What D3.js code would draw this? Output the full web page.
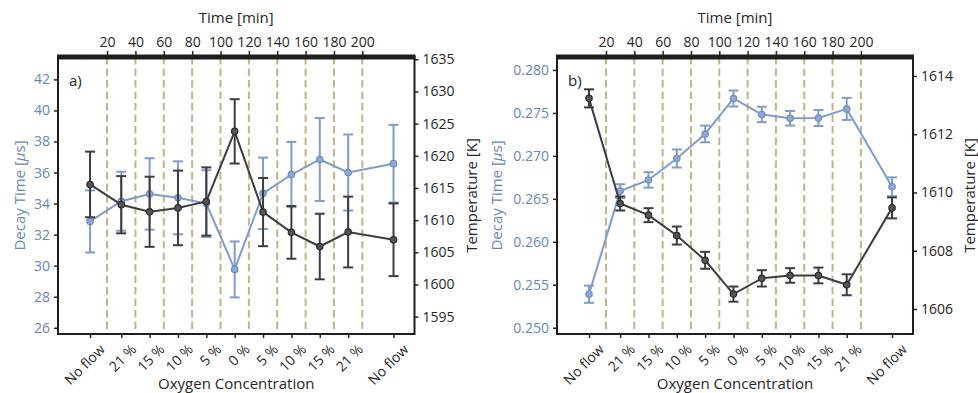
<!DOCTYPE html>
<html>
<head>
<meta charset="utf-8">
<script src="https://cdn.jsdelivr.net/npm/d3@7"></script>
<style>
  html, body { margin: 0; padding: 0; background: #fff; }
  svg text { font-family: "Open Sans", "Noto Sans", "DejaVu Sans", sans-serif; }
</style>
</head>
<body>
<svg id="chart" width="978" height="393"></svg>
<script>
// Condition labels and mid-interval times (min)
const categories = ["No flow", "21 %", "15 %", "10 %", "5 %", "0 %", "5 %", "10 %", "15 %", "21 %", "No flow"];
const times = [8, 30, 50, 70, 90, 110, 130, 150, 170, 190, 222];
// Condition switch times (top axis ticks and dashed lines)
const switchTimes = [20, 40, 60, 80, 100, 120, 140, 160, 180, 200];

// Panel a) decay time [µs] and temperature [K]
const decayA = [32.85, 34.15, 34.62, 34.37, 34.0, 29.76, 34.66, 35.87, 36.84, 36.0, 36.57];
const decayErrA = [2.0, 1.9, 2.3, 2.35, 2.15, 1.8, 2.3, 2.1, 2.67, 2.45, 2.5];
const tempA = [1615.55, 1612.4, 1611.3, 1611.9, 1612.9, 1623.8, 1611.25, 1608.1, 1605.9, 1608.15, 1606.95];
const tempErrA = [5.1, 4.45, 5.45, 5.8, 5.3, 5.0, 5.3, 4.1, 5.1, 5.5, 5.65];

// Panel b) decay time [µs] and temperature [K]
const decayB = [0.2539, 0.2659, 0.2672, 0.2697, 0.27255, 0.27668, 0.27482, 0.27438, 0.27441, 0.27547, 0.2664];
const decayErrB = [0.001, 0.0008, 0.0009, 0.00105, 0.00097, 0.00093, 0.0009, 0.00085, 0.00093, 0.00128, 0.0011];
const tempB = [1613.23, 1609.62, 1609.22, 1608.52, 1607.67, 1606.51, 1607.05, 1607.15, 1607.15, 1606.83, 1609.47];
const tempErrB = [0.31, 0.24, 0.24, 0.31, 0.29, 0.26, 0.28, 0.25, 0.27, 0.36, 0.36];

// Left and right tick values
const decayTicksA = [26, 28, 30, 32, 34, 36, 38, 40, 42];
const tempTicksA = [1595, 1600, 1605, 1610, 1615, 1620, 1625, 1630, 1635];
const decayTicksB = [0.250, 0.255, 0.260, 0.265, 0.270, 0.275, 0.280];
const tempTicksB = [1606, 1608, 1610, 1612, 1614];

const BLUE = "#7f9ccc";
const BLUE_TEXT = "#6686bd";
const DARK = "#3d3d3d";
const INK = "#262626";
const DASH = "#c4b384";
const TICK_FS = "14px";
const LABEL_FS = "15px";

const svg = d3.select("#chart");

function panel(opts) {
  const { x0, width, top, bottom, decay, decayErr, temp, tempErr,
          decayDomain, tempDomain, decayTicks, tempTicks, decayFmt, tempFmt, tag } = opts;
  const g = svg.append("g");

  const x = d3.scaleLinear().domain([-14.6, 236.8]).range([x0, x0 + width]);
  const yL = d3.scaleLinear().domain(decayDomain).range([bottom, top]);
  const yR = d3.scaleLinear().domain(tempDomain).range([bottom, top]);

  // dashed switch lines
  g.append("g").selectAll("line").data(switchTimes).join("line")
    .attr("x1", d => x(d)).attr("x2", d => x(d))
    .attr("y1", top).attr("y2", bottom)
    .attr("stroke", DASH).attr("stroke-width", 2)
    .attr("stroke-dasharray", "7.5,4");

  function series(vals, errs, y, color, markFill, markStroke) {
    const s = g.append("g");
    const pts = vals.map((v, i) => ({ t: times[i], v, e: errs[i] }));
    s.append("path").datum(pts)
      .attr("fill", "none").attr("stroke", color).attr("stroke-width", 2)
      .attr("d", d3.line().x(d => x(d.t)).y(d => y(d.v)));
    const eb = s.append("g").selectAll("g").data(pts).join("g");
    eb.append("line")
      .attr("x1", d => x(d.t)).attr("x2", d => x(d.t))
      .attr("y1", d => y(d.v - d.e)).attr("y2", d => y(d.v + d.e))
      .attr("stroke", color).attr("stroke-width", 2);
    [-1, 1].forEach(sg => {
      eb.append("line")
        .attr("x1", d => x(d.t) - 5).attr("x2", d => x(d.t) + 5)
        .attr("y1", d => y(d.v + sg * d.e)).attr("y2", d => y(d.v + sg * d.e))
        .attr("stroke", color).attr("stroke-width", 2);
    });
    s.append("g").selectAll("circle").data(pts).join("circle")
      .attr("cx", d => x(d.t)).attr("cy", d => y(d.v)).attr("r", 3.2)
      .attr("fill", markFill).attr("stroke", markStroke).attr("stroke-width", 1.2);
  }
  series(decay, decayErr, yL, BLUE, "#8ea8d3", "#6f8dc0");
  series(temp, tempErr, yR, DARK, "#555", "#2a2a2a");

  // axes
  const left = g.append("g").attr("transform", `translate(${x0},0)`)
    .call(d3.axisLeft(yL).tickValues(decayTicks).tickFormat(decayFmt).tickSize(4).tickPadding(4));
  left.select(".domain").remove();
  left.selectAll(".tick line").attr("stroke", INK).attr("stroke-width", 1.5);
  left.selectAll(".tick text").attr("fill", BLUE_TEXT).style("font-size", TICK_FS);

  const right = g.append("g").attr("transform", `translate(${x0 + width},0)`)
    .call(d3.axisRight(yR).tickValues(tempTicks).tickFormat(tempFmt).tickSize(4).tickPadding(4));
  right.select(".domain").remove();
  right.selectAll(".tick line").attr("stroke", INK).attr("stroke-width", 1.5);
  right.selectAll(".tick text").attr("fill", INK).style("font-size", TICK_FS);

  const bot = g.append("g").attr("transform", `translate(0,${bottom})`)
    .call(d3.axisBottom(x).tickValues(times).tickFormat((d, i) => categories[i]).tickSize(4).tickPadding(3));
  bot.select(".domain").remove();
  bot.selectAll(".tick line").attr("stroke", INK).attr("stroke-width", 1.5);
  bot.selectAll(".tick text").attr("fill", INK).style("font-size", TICK_FS)
    .attr("text-anchor", "end").attr("dy", "0.75em")
    .attr("transform", "translate(3,4) rotate(-45)");

  const topAx = g.append("g").attr("transform", `translate(0,${top - 2})`)
    .call(d3.axisTop(x).tickValues(switchTimes).tickFormat(d3.format("d")).tickSize(4).tickPadding(4));
  topAx.select(".domain").remove();
  topAx.selectAll(".tick line").attr("stroke", INK).attr("stroke-width", 1.5);
  topAx.selectAll(".tick text").attr("fill", INK).style("font-size", TICK_FS);

  // frame
  g.append("rect").attr("x", x0).attr("y", top).attr("width", width).attr("height", bottom - top)
    .attr("fill", "none").attr("stroke", "#1e1e1e").attr("stroke-width", 2);
  g.append("line").attr("x1", x0 - 1).attr("x2", x0 + width + 1).attr("y1", top).attr("y2", top)
    .attr("stroke", "#1e1e1e").attr("stroke-width", 5);

  // labels
  const cx = x0 + width / 2;
  g.append("text").attr("x", cx).attr("y", 23).attr("text-anchor", "middle")
    .attr("fill", INK).style("font-size", LABEL_FS).text("Time [min]");
  g.append("text").attr("x", cx).attr("y", 389).attr("text-anchor", "middle")
    .attr("fill", INK).style("font-size", LABEL_FS).text("Oxygen Concentration");
  const ly = (top + bottom) / 2;
  const dl = g.append("text").attr("text-anchor", "middle").attr("fill", BLUE_TEXT)
    .style("font-size", LABEL_FS)
    .attr("transform", `translate(${opts.leftLabelX},${ly}) rotate(-90)`);
  dl.append("tspan").text("Decay Time [");
  dl.append("tspan").style("font-style", "italic").text("µ");
  dl.append("tspan").text("s]");
  g.append("text").attr("text-anchor", "middle").attr("fill", INK).style("font-size", LABEL_FS)
    .attr("transform", `translate(${opts.rightLabelX},${ly}) rotate(-90)`)
    .text("Temperature [K]");
  g.append("text").attr("x", x0 + 11).attr("y", top + 29).attr("fill", INK)
    .style("font-size", LABEL_FS).text(tag);
}

panel({
  x0: 58, width: 356.5, top: 57, bottom: 334,
  decay: decayA, decayErr: decayErrA, temp: tempA, tempErr: tempErrA,
  decayDomain: [25.6, 43.44], tempDomain: [1592.3, 1635.36],
  decayTicks: decayTicksA, tempTicks: tempTicksA,
  decayFmt: d3.format("d"), tempFmt: d3.format("d"),
  leftLabelX: 25, rightLabelX: 477, tag: "a)"
});

panel({
  x0: 557, width: 356, top: 57, bottom: 334,
  decay: decayB, decayErr: decayErrB, temp: tempB, tempErr: tempErrB,
  decayDomain: [0.24927, 0.28151], tempDomain: [1605.14, 1614.65],
  decayTicks: decayTicksB, tempTicks: tempTicksB,
  decayFmt: d3.format(".3f"), tempFmt: d3.format("d"),
  leftLabelX: 502, rightLabelX: 975, tag: "b)"
});
</script>
</body>
</html>
